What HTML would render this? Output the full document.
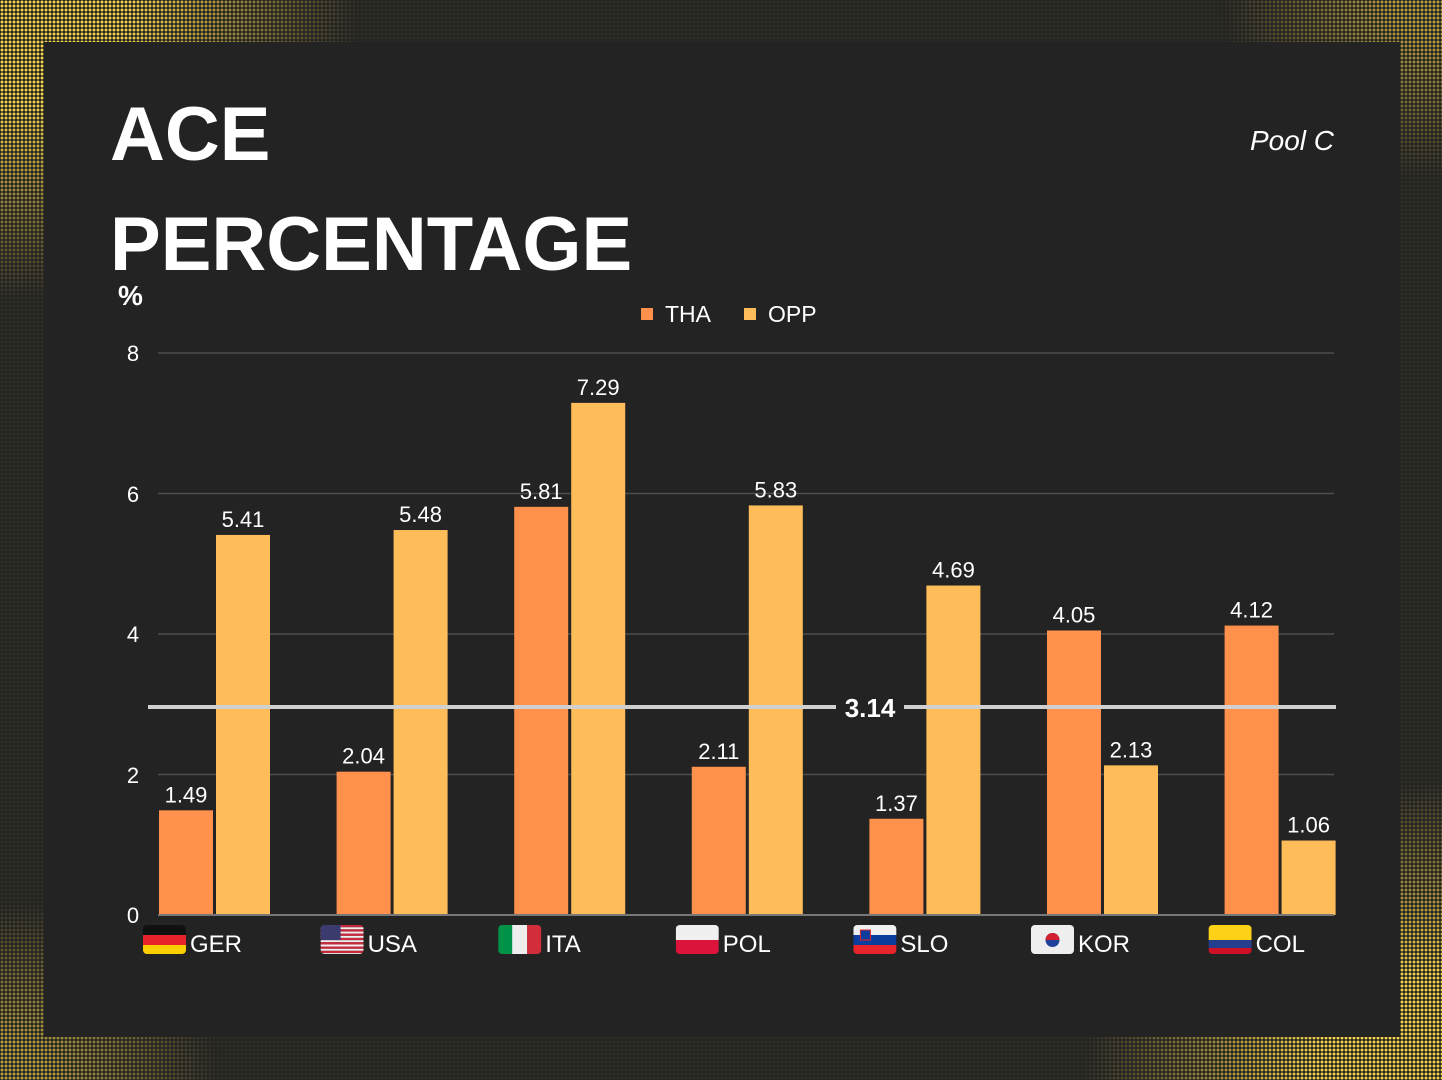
<!DOCTYPE html>
<html><head><meta charset="utf-8"><style>
html,body{margin:0;padding:0;background:#232323;}
#wrap{position:relative;width:1442px;height:1080px;overflow:hidden;background:#232323;font-family:"Liberation Sans",sans-serif;}
.dots{position:absolute;left:0;top:0;width:1442px;height:1080px;
background-image:radial-gradient(circle,#f5d548 1.3px,transparent 1.6px);background-size:4px 4px;
-webkit-mask-image:radial-gradient(ellipse 360px 300px at 0 0,#000 35%,transparent 100%),radial-gradient(ellipse 360px 300px at 100% 100%,#000 35%,transparent 100%),radial-gradient(ellipse 220px 180px at 100% 0,rgba(0,0,0,.7) 20%,transparent 100%),radial-gradient(ellipse 220px 180px at 0 100%,rgba(0,0,0,.7) 20%,transparent 100%),linear-gradient(rgba(0,0,0,.06),rgba(0,0,0,.06));
mask-image:radial-gradient(ellipse 360px 300px at 0 0,#000 35%,transparent 100%),radial-gradient(ellipse 360px 300px at 100% 100%,#000 35%,transparent 100%),radial-gradient(ellipse 220px 180px at 100% 0,rgba(0,0,0,.7) 20%,transparent 100%),radial-gradient(ellipse 220px 180px at 0 100%,rgba(0,0,0,.7) 20%,transparent 100%),linear-gradient(rgba(0,0,0,.06),rgba(0,0,0,.06));}
.panel{position:absolute;left:44px;top:42px;width:1356px;height:995px;background:#232323;}
svg{position:absolute;left:0;top:0;}
</style></head><body><div id="wrap">
<div class="dots"></div>
<div class="panel"></div>
<svg width="1442" height="1080" font-family="Liberation Sans, sans-serif">
<text x="110" y="160" fill="#fff" font-size="76" font-weight="bold">ACE</text>
<text x="110" y="270" fill="#fff" font-size="76" font-weight="bold">PERCENTAGE</text>
<text x="118" y="305" fill="#fff" font-size="28" font-weight="bold">%</text>
<text x="1334" y="150" fill="#fff" font-size="28" font-style="italic" text-anchor="end">Pool C</text>
<rect x="641" y="308" width="12" height="12" fill="#FF914D"/><text x="665" y="322" fill="#fff" font-size="23">THA</text>
<rect x="744" y="308" width="12" height="12" fill="#FFBD59"/><text x="768" y="322" fill="#fff" font-size="23">OPP</text>
<g stroke="#4d4d4d" stroke-width="1.5">
<line x1="158" x2="1334" y1="353" y2="353"/><line x1="158" x2="1334" y1="493.5" y2="493.5"/>
<line x1="158" x2="1334" y1="634" y2="634"/><line x1="158" x2="1334" y1="774.5" y2="774.5"/>
</g>
<g fill="#fff" font-size="22" text-anchor="middle">
<text x="133" y="361">8</text><text x="133" y="502">6</text><text x="133" y="642">4</text><text x="133" y="783">2</text><text x="133" y="923">0</text>
</g>
<g id="bars" font-size="22" fill="#fff" text-anchor="middle"></g>
<line x1="148" x2="1336" y1="707" y2="707" stroke="#d0d0d0" stroke-width="4"/>
<rect x="836" y="692" width="68" height="30" fill="#232323"/>
<text x="870" y="717" fill="#fff" font-size="26" font-weight="bold" text-anchor="middle">3.14</text>
<line x1="158" x2="1334" y1="915" y2="915" stroke="#777" stroke-width="2"/>
<g id="flags"></g>
</svg>
<script>
var tha=[1.49,2.04,5.81,2.11,1.37,4.05,4.12],opp=[5.41,5.48,7.29,5.83,4.69,2.13,1.06];
var names=["GER","USA","ITA","POL","SLO","KOR","COL"];
var ns="http://www.w3.org/2000/svg",b=document.getElementById("bars"),f=document.getElementById("flags");
function el(p,t,a,txt){var e=document.createElementNS(ns,t);for(var k in a)e.setAttribute(k,a[k]);if(txt)e.textContent=txt;p.appendChild(e);return e;}
var s=70.25,base=915;
for(var i=0;i<7;i++){
 var x=159+177.6*i;
 [[tha[i],x,"#FF914D"],[opp[i],x+57,"#FFBD59"]].forEach(function(d){
  var h=d[0]*s;el(b,"rect",{x:d[1],y:base-h,width:54,height:h,fill:d[2]});
  el(b,"text",{x:d[1]+27,y:base-h-8},d[0].toFixed(2));
 });
 var fx=143+177.6*i,fy=925,w=43,hh=29;
 var g=el(f,"g",{});
 var cp="c"+i;var defs=el(g,"clipPath",{id:cp});el(defs,"rect",{x:fx,y:fy,width:w,height:hh,rx:4});
 var gg=el(g,"g",{"clip-path":"url(#"+cp+")"});
 var n=names[i];
 if(n=="GER"){el(gg,"rect",{x:fx,y:fy,width:w,height:10,fill:"#111"});el(gg,"rect",{x:fx,y:fy+10,width:w,height:10,fill:"#e8232a"});el(gg,"rect",{x:fx,y:fy+20,width:w,height:10,fill:"#fcd000"});}
 if(n=="USA"){for(var k=0;k<7;k++){el(gg,"rect",{x:fx,y:fy+k*4.3,width:w,height:2.3,fill:"#c8283c"});el(gg,"rect",{x:fx,y:fy+k*4.3+2.3,width:w,height:2,fill:"#eee"});}el(gg,"rect",{x:fx,y:fy,width:20,height:15,fill:"#3c3b6e"});}
 if(n=="ITA"){el(gg,"rect",{x:fx,y:fy,width:15,height:hh+2,fill:"#009246"});el(gg,"rect",{x:fx+14,y:fy,width:15,height:hh+2,fill:"#eee"});el(gg,"rect",{x:fx+29,y:fy,width:15,height:hh+2,fill:"#d22d3a"});}
 if(n=="POL"){el(gg,"rect",{x:fx,y:fy,width:w,height:15,fill:"#f0f0f0"});el(gg,"rect",{x:fx,y:fy+15,width:w,height:15,fill:"#dc143c"});}
 if(n=="SLO"){el(gg,"rect",{x:fx,y:fy,width:w,height:10,fill:"#f0f0f0"});el(gg,"rect",{x:fx,y:fy+10,width:w,height:10,fill:"#0a3d9e"});el(gg,"rect",{x:fx,y:fy+20,width:w,height:10,fill:"#e8232a"});el(gg,"rect",{x:fx+7,y:fy+5,width:10,height:10,fill:"#0a3d9e",stroke:"#e8232a"});}
 if(n=="KOR"){el(gg,"rect",{x:fx,y:fy,width:w,height:hh+2,fill:"#eee"});el(gg,"circle",{cx:fx+21.5,cy:fy+15,r:7,fill:"#1f3f99"});el(gg,"path",{d:"M"+(fx+14.5)+" "+(fy+15)+" a7 7 0 0 1 14 0z",fill:"#d32030"});}
 if(n=="COL"){el(gg,"rect",{x:fx,y:fy,width:w,height:15,fill:"#fcd116"});el(gg,"rect",{x:fx,y:fy+15,width:w,height:8,fill:"#253f8e"});el(gg,"rect",{x:fx,y:fy+23,width:w,height:8,fill:"#ce1126"});}
 el(f,"text",{x:fx+47,y:952,fill:"#fff","font-size":24},n);
}
</script>
</div></body></html>
